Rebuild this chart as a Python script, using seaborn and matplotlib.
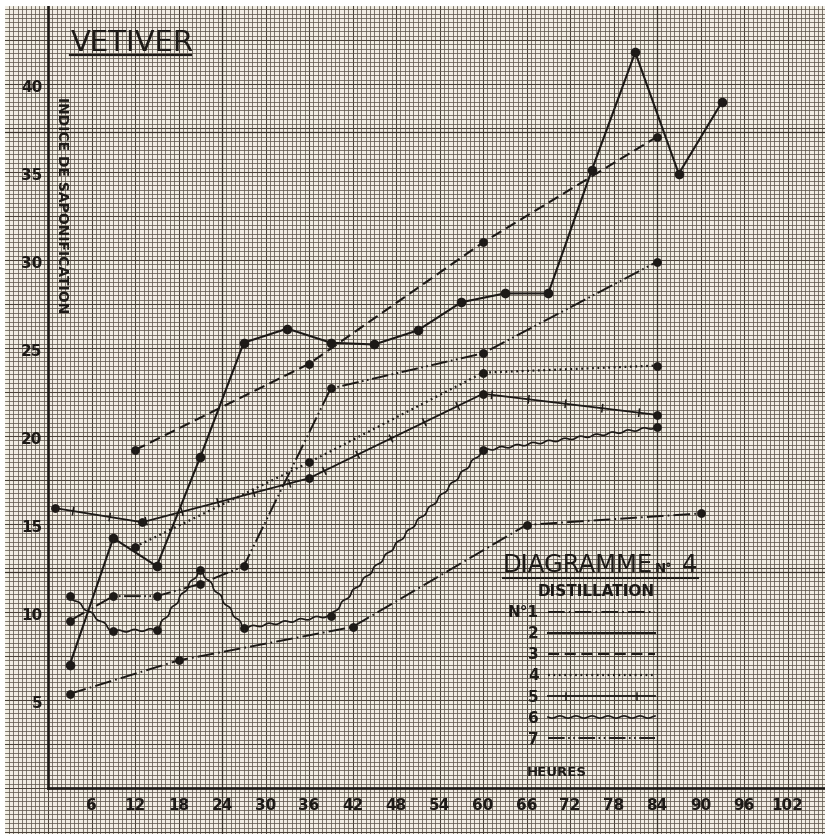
import numpy as np
import pandas as pd
import seaborn as sns
import matplotlib.pyplot as plt
import matplotlib.patheffects as pe
from matplotlib.lines import Line2D
from matplotlib.ticker import MultipleLocator

# Vetiver, diagramme n°4 : indice de saponification vs heures de distillation
hours_1 = [3, 18, 42, 66, 90]
indice_1 = [5.35, 7.25, 9.15, 14.95, 15.6]
hours_2 = [3, 9, 15, 21, 27, 33, 39, 45, 51, 57, 63, 69, 75, 81, 87, 93]
indice_2 = [7.0, 14.2, 12.6, 18.8, 25.3, 26.1, 25.3, 25.2, 26.0, 27.6, 28.1, 28.1,
            35.1, 41.8, 34.9, 39.0]
hours_3 = [12, 36, 60, 84]
indice_3 = [19.2, 24.1, 31.0, 37.0]
hours_4 = [12, 36, 60, 84]
indice_4 = [13.7, 18.5, 23.6, 24.0]
hours_5 = [1, 13, 36, 60, 84]
indice_5 = [15.9, 15.1, 17.6, 22.4, 21.2]
hours_6 = [3, 9, 15, 21, 27, 39, 60, 84]
indice_6 = [10.9, 8.9, 9.0, 12.4, 9.1, 9.8, 19.2, 20.5]
hours_7 = [3, 9, 15, 21, 27, 39, 60, 84]
indice_7 = [9.5, 10.9, 10.9, 11.6, 12.6, 22.7, 24.7, 29.9]

x_ticks = list(range(6, 103, 6))
y_ticks = [5, 10, 15, 20, 25, 30, 35, 40]
legend_labels = ["N°1", "2", "3", "4", "5", "6", "7"]

plt.rcParams["lines.scale_dashes"] = False
plt.rcParams["font.family"] = ["DejaVu Sans"]

ink = "#1d1a17"
paper = "#f1ede3"

# pixel layout of the scanned sheet
W, H = 825, 834
X0, Y0 = 5, 6            # where the graph paper starts
AX_X, PX_H = 48, 7.25    # x pixel of 0 h, pixels per hour
AX_Y, PX_V = 788, 17.6   # y pixel of index 0, pixels per unit


def px(x, y):
    return ((x - X0) / (W - X0), 1 - (y - Y0) / (H - Y0))


fig = plt.figure(figsize=(W / 100, H / 100), dpi=100)
fig.patch.set_facecolor("white")
ax = fig.add_axes([X0 / W, 0, (W - X0) / W, (H - Y0) / H])
ax.set_facecolor(paper)
xlim = ((X0 - AX_X) / PX_H, (W - AX_X) / PX_H)
ylim = ((AX_Y - H) / PX_V, (AX_Y - Y0) / PX_V)
ax.set_xlim(*xlim)
ax.set_ylim(*ylim)

# millimetre paper: 1 mm = 0.6 h = 0.25 unit
ax.xaxis.set_minor_locator(MultipleLocator(0.6))
ax.yaxis.set_minor_locator(MultipleLocator(0.25))
ax.xaxis.set_major_locator(MultipleLocator(6))
ax.yaxis.set_major_locator(MultipleLocator(2.5))
ax.grid(which="minor", color="#5d554b", lw=0.55)
ax.grid(which="major", color="#4a4239", lw=0.75)
ax.set_axisbelow(True)
ax.tick_params(which="both", length=0, labelbottom=False, labelleft=False)
for s in ax.spines.values():
    s.set_visible(False)
for xv in (24, 84):
    ax.axvline(xv, color="#3a332c", lw=0.9, zorder=0.6)
for yv in (12.25, 37.25):
    ax.axhline(yv, color="#3a332c", lw=0.9, zorder=0.6)

ticked = [pe.Normal(),
          pe.TickedStroke(spacing=26, angle=90, length=0.1, linewidth=1.1),
          pe.TickedStroke(spacing=26, angle=-90, length=0.1, linewidth=1.1)]
styles = {
    "N°1": dict(linestyle=(0, (12, 3, 1.2, 3)), linewidth=1.4),
    "2": dict(linestyle="-", linewidth=1.5),
    "3": dict(linestyle=(0, (8, 4)), linewidth=1.5),
    "4": dict(linestyle=(0, (1.3, 2.6)), linewidth=1.6),
    "5": dict(linestyle="-", linewidth=1.3, path_effects=ticked),
    "6": dict(linestyle="-", linewidth=1.2),
    "7": dict(linestyle=(0, (12, 2.5, 1.2, 2.5, 1.2, 2.5)), linewidth=1.4),
}
wave = (1.1, 16, 1)

series = [(hours_1, indice_1), (hours_2, indice_2), (hours_3, indice_3),
          (hours_4, indice_4), (hours_5, indice_5), (hours_6, indice_6),
          (hours_7, indice_7)]

handles = []
for label, (h, v) in zip(legend_labels, series):
    st = styles[label]
    sns.lineplot(x=h, y=v, ax=ax, color=ink, estimator=None, errorbar=None,
                 zorder=2, **st)
    if label == "6":
        ax.lines[-1].set_sketch_params(*wave)
    sns.scatterplot(x=h, y=v, ax=ax, color=ink, s=48 if label == "2" else 40,
                    linewidth=0, zorder=3)
    hd = Line2D([], [], color=ink, **st)
    if label == "6":
        hd.set_sketch_params(*wave)
    handles.append(hd)

ax.set_xlabel("")
ax.set_ylabel("")

# heavy axes drawn on the sheet
fx0 = (0 - xlim[0]) / (xlim[1] - xlim[0])
fy0 = (0 - ylim[0]) / (ylim[1] - ylim[0])
ax.axvline(0, ymin=fy0, ymax=1, color=ink, lw=1.9, zorder=4)
ax.axhline(0, xmin=fx0, xmax=1, color=ink, lw=1.9, zorder=4)

num_font = dict(fontsize=11, fontweight="bold", color=ink)
for xt in x_ticks:
    ax.text(xt, -0.97, str(xt), ha="center", va="center", **num_font)
for yt in y_ticks:
    ax.text(-0.8, yt - 0.2, str(yt), ha="right", va="center", **num_font)

ax.text(*px(62, 205), "INDICE DE SAPONIFICATION", transform=ax.transAxes,
        rotation=-90, ha="center", va="center", fontsize=10,
        fontweight="bold", color=ink)
ax.text(*px(557, 773), "HEURES", transform=ax.transAxes, ha="center",
        va="center", fontsize=9.5, fontweight="bold", color=ink)

ax.text(*px(71, 51), "VETIVER", transform=ax.transAxes, ha="left",
        va="baseline", fontsize=21, color=ink)
ax.plot(*zip(px(70, 55), px(191, 55)), transform=ax.transAxes, color=ink,
        lw=1.6)

ax.text(*px(503, 572), "DIAGRAMME", transform=ax.transAxes, ha="left",
        va="baseline", fontsize=17.5, color=ink)
ax.text(*px(655, 572), "N°", transform=ax.transAxes, ha="left",
        va="baseline", fontsize=9.5, fontweight="bold", color=ink)
ax.text(*px(682, 572), "4", transform=ax.transAxes, ha="left",
        va="baseline", fontsize=17.5, color=ink)
ax.plot(*zip(px(503, 578), px(698, 578)), transform=ax.transAxes, color=ink,
        lw=1.5)

leg = ax.legend(handles, legend_labels, loc="upper right",
                bbox_to_anchor=px(655, 584), bbox_transform=ax.transAxes,
                markerfirst=False, frameon=False, handlelength=7.0,
                handletextpad=0.6, labelspacing=0.4, borderpad=0,
                borderaxespad=0, title="DISTILLATION", alignment="right",
                prop=dict(size=11, weight="bold"),
                title_fontproperties=dict(size=11, weight="bold"))
for t in leg.get_texts():
    t.set_color(ink)
leg.get_title().set_color(ink)
leg.set_zorder(5)

fig.savefig("out.png", dpi=100, facecolor="white")
